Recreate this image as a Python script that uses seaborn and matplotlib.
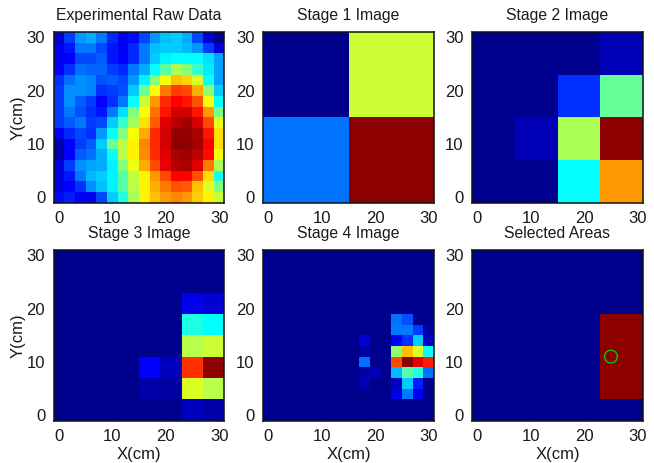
import numpy as np
import matplotlib
matplotlib.use("Agg")
import matplotlib.pyplot as plt
from matplotlib.colors import LinearSegmentedColormap
import seaborn as sns

titles = ["Experimental Raw Data", "Stage 1 Image", "Stage 2 Image",
          "Stage 3 Image", "Stage 4 Image", "Selected Areas"]
tick_values = [0, 10, 20, 30]
x_label = "X(cm)"
y_label = "Y(cm)"
circle_x = [25]
circle_y = [11]

raw_data = [
    [.07,.17,.26,.28,.23,.15,.10,.12,.18,.26,.30,.31,.28,.18,.07,.00],
    [.10,.13,.23,.23,.18,.13,.10,.15,.23,.30,.31,.31,.29,.26,.17,.07],
    [.10,.11,.18,.18,.20,.13,.11,.15,.23,.31,.35,.36,.36,.36,.33,.27],
    [.11,.16,.22,.21,.21,.17,.15,.23,.28,.36,.46,.55,.51,.42,.34,.27],
    [.16,.22,.25,.24,.19,.20,.18,.26,.35,.51,.63,.70,.68,.60,.37,.27],
    [.17,.25,.25,.24,.16,.17,.19,.31,.48,.64,.77,.83,.82,.72,.52,.31],
    [.17,.25,.20,.17,.11,.16,.23,.36,.58,.74,.85,.89,.87,.81,.63,.36],
    [.17,.23,.19,.16,.13,.23,.33,.50,.64,.78,.87,.93,.93,.87,.74,.49],
    [.17,.20,.23,.17,.18,.31,.42,.54,.67,.80,.92,.96,.98,.93,.82,.61],
    [.11,.15,.18,.16,.26,.37,.50,.63,.72,.85,.93,.99,.99,.97,.87,.67],
    [.03,.11,.17,.20,.31,.48,.56,.65,.76,.85,.93,1.0,1.0,.98,.89,.67],
    [.03,.11,.20,.22,.28,.37,.56,.65,.75,.85,.92,.97,.98,.95,.88,.63],
    [.08,.17,.25,.27,.28,.35,.50,.62,.72,.82,.91,.96,.97,.92,.77,.55],
    [.08,.13,.23,.29,.31,.35,.45,.57,.65,.74,.82,.89,.89,.81,.67,.38],
    [.08,.11,.16,.25,.30,.35,.46,.56,.65,.72,.77,.81,.80,.70,.60,.50],
    [.12,.14,.11,.10,.18,.31,.40,.54,.65,.70,.74,.76,.74,.69,.65,.58],
]
stage1 = [[0, .585], [.225, 1]]
stage2 = [[0, 0, 0, .04], [0, 0, .16, .47], [0, .04, .55, 1], [0, 0, .36, .74]]
stage3 = [
    [0, 0, 0, 0, 0, 0, 0, 0],
    [0, 0, 0, 0, 0, 0, 0, 0],
    [0, 0, 0, 0, 0, 0, .09, .07],
    [0, 0, 0, 0, 0, 0, .39, .36],
    [0, 0, 0, 0, 0, 0, .56, .585],
    [0, 0, 0, 0, .11, .05, .84, 1],
    [0, 0, 0, 0, .03, .02, .60, .56],
    [0, 0, 0, 0, 0, 0, .05, .03],
]
stage4 = [
    [0]*16, [0]*16, [0]*16, [0]*16, [0]*16, [0]*16,
    [0,0,0,0,0,0,0,0,0,0,0,0,.22,.19,0,0],
    [0,0,0,0,0,0,0,0,0,0,0,0,.23,.23,.17,.02],
    [0,0,0,0,0,0,0,0,0,.07,0,0,.11,.16,.31,.05],
    [0,0,0,0,0,0,0,0,0,.02,0,0,.52,.70,.60,.37],
    [0,0,0,0,0,0,0,0,0,.22,0,0,.82,1.0,.92,.86],
    [0,0,0,0,0,0,0,0,0,.02,.04,0,.29,.45,.40,.22],
    [0,0,0,0,0,0,0,0,0,.04,0,0,.05,.31,.14,0],
    [0,0,0,0,0,0,0,0,0,0,0,0,.09,.23,.09,0],
    [0]*16, [0]*16,
]
selected = [[1 if 6 <= r <= 13 and c >= 12 else 0 for c in range(16)] for r in range(16)]

sns.set_theme(style="white")
plt.rcParams["font.family"] = ["Liberation Sans", "DejaVu Sans"]

# MATLAB-style jet: slightly brighter ends than matplotlib's
jet_m = LinearSegmentedColormap.from_list("jet_m", [
    (0.0, (0, 0, .56)), (.11, (0, 0, 1)), (.36, (0, 1, 1)),
    (.64, (1, 1, 0)), (.89, (1, 0, 0)), (1.0, (.55, 0, 0))], N=256)

W, H = 654, 463
fig = plt.figure(figsize=(W / 100, H / 100), dpi=100, facecolor="white")

lefts = [53.5, 263, 472]
tops = [32, 250]
aw, ah = 171, 170.5

def grid16(m):
    m = np.asarray(m, dtype=float)
    k = 16 // m.shape[0]
    return np.repeat(np.repeat(m, k, axis=0), k, axis=1)

panels = [raw_data, stage1, stage2, stage3, stage4, selected]
for i, (m, title) in enumerate(zip(panels, titles)):
    r, c = divmod(i, 3)
    ax = fig.add_axes([lefts[c] / W, 1 - (tops[r] + ah) / H, aw / W, ah / H])
    sns.heatmap(grid16(m), cmap=jet_m, vmin=0, vmax=1, cbar=False, ax=ax,
                xticklabels=False, yticklabels=False)
    ax.set_xticks([(v + 1) / 2 for v in tick_values])
    ax.set_xticklabels([str(v) for v in tick_values])
    ax.set_yticks([(31 - v) / 2 for v in tick_values])
    ax.set_yticklabels([str(v) for v in tick_values], rotation=0)
    ax.tick_params(axis="both", which="both", direction="in", length=2, width=0.6,
                   color="#111111", labelsize=12, labelcolor="#1a1a1a",
                   top=True, right=True, bottom=True, left=True, pad=6)
    for s in ax.spines.values():
        s.set_visible(True)
        s.set_color("#111111")
        s.set_linewidth(1.1)
    ax.set_title(title, fontsize=11.3, color="#1a1a1a", pad=8.5)
    if c == 0:
        ax.set_ylabel(y_label, fontsize=12, color="#1a1a1a", labelpad=0.5)
    if r == 1:
        ax.set_xlabel(x_label, fontsize=12, color="#1a1a1a", labelpad=2)
    if i == 5:
        sns.scatterplot(x=[(v + 1) / 2 for v in circle_x],
                        y=[(31 - v) / 2 for v in circle_y],
                        marker="o", s=85, facecolors="none",
                        edgecolor="#10c010", linewidth=1.0, ax=ax, legend=False)
        ax.set_xlim(0, 16)
        ax.set_ylim(16, 0)

fig.savefig("out.png", dpi=100)
